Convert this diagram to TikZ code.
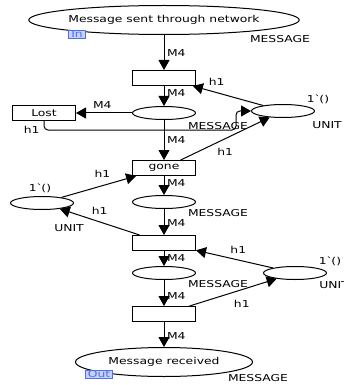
\documentclass[tikz,border=0pt]{standalone}
\usepackage{fontspec}
\setmainfont{DejaVu Sans}[FakeStretch=1.3]
\usetikzlibrary{shapes.geometric,arrows.meta}
\definecolor{tagline}{RGB}{80,110,230}
\definecolor{tagfill}{RGB}{195,210,255}

\begin{document}
\begin{tikzpicture}[x=1pt,y=-1pt,line width=1pt,
 font=\fontsize{9.5}{10}\selectfont,
 place node/.style={ellipse,draw,minimum width=63pt,minimum height=13pt,inner sep=0pt},
 port node/.style={ellipse,draw,minimum height=29pt,inner sep=0pt},
 trans node/.style={rectangle,draw,minimum width=63pt,minimum height=15pt,inner sep=0pt},
 tag node/.style={draw=tagline,fill=tagfill,text=tagline,line width=0.7pt,
   inner xsep=2.5pt,inner ysep=0pt,text height=7pt,text depth=0.5pt},
 label node/.style={inner sep=1pt},
 arc/.style={-{Triangle[length=10pt,width=11pt]}}]

  \useasboundingbox (0,0) rectangle (344,385);

  \node[port node,minimum width=238pt] (1) at (164,20) {Message sent through network};
  \node[tag node] (in) at (77,34.5) {In};
  \node[trans node] (2) at (164,78) {};
  \node[place node] (3) at (164,113) {};
  \node[trans node] (4) at (44,113) {Lost};
  \node[place node] (5) at (283,111) {};
  \node[trans node] (6) at (164,168) {gone};
  \node[place node] (7) at (164,202) {};
  \node[place node] (8) at (42,203) {};
  \node[trans node] (9) at (164,243) {};
  \node[place node] (10) at (164,273) {};
  \node[place node] (11) at (295,273) {};
  \node[trans node] (12) at (164,314) {};
  \node[port node,minimum width=177pt] (13) at (164,362) {Message received};
  \node[tag node] (out) at (99,374.5) {Out};

  \node[label node] (ty1) at (280,39) {MESSAGE};
  \node[label node] (ty3) at (218,126) {MESSAGE};
  \node[label node] (mk5) at (318,99) {1\textasciigrave()};
  \node[label node] (ty5) at (327,125) {UNIT};
  \node[label node] (mk8) at (40,188) {1\textasciigrave()};
  \node[label node] (ty8) at (69,228) {UNIT};
  \node[label node] (ty7) at (218,213) {MESSAGE};
  \node[label node] (ty10) at (218,284) {MESSAGE};
  \node[label node] (mk11) at (330,261) {1\textasciigrave()};
  \node[label node] (ty11) at (334,285) {UNIT};
  \node[label node] (ty13) at (258,378) {MESSAGE};

  \path[arc,every node/.style={label node}]
     (1) edge node [pos=.51,right=1.5pt] {M4} (2)
     (2) edge node [pos=.36,right=1.5pt] {M4} (3)
     (5) edge node [pos=.66,above=6pt] {h1} (2)
     (3) edge node [pos=.53,above=3pt] {M4} (4)
         edge node [pos=.5,right=1.5pt] {M4} (6)
     (6) edge node [pos=.5,below=8pt] {h1} (5)
         edge node [pos=.38,right=1.5pt] {M4} (7)
     (8) edge node [pos=.55,above=7pt] {h1} (6)
     (7) edge node [pos=.54,right=1.5pt] {M4} (9)
     (9) edge node [pos=.5,above=5.5pt] {h1} (8)
         edge node [pos=.47,right=1.5pt] {M4} (10)
     (11) edge node [pos=.45,above=5.5pt] {h1} (9)
     (10) edge node [pos=.61,right=1.5pt] {M4} (12)
     (12) edge node [pos=.6,below=9.5pt] {h1} (11)
          edge node [pos=.55,right=1.5pt] {M4} (13);

  \coordinate (bend) at (236,130);
  \draw[arc,rounded corners=4pt] (4.south) |- node [label node,pos=.5,left=3pt] {h1} (bend) |- (5.west);
\end{tikzpicture}
\end{document}
